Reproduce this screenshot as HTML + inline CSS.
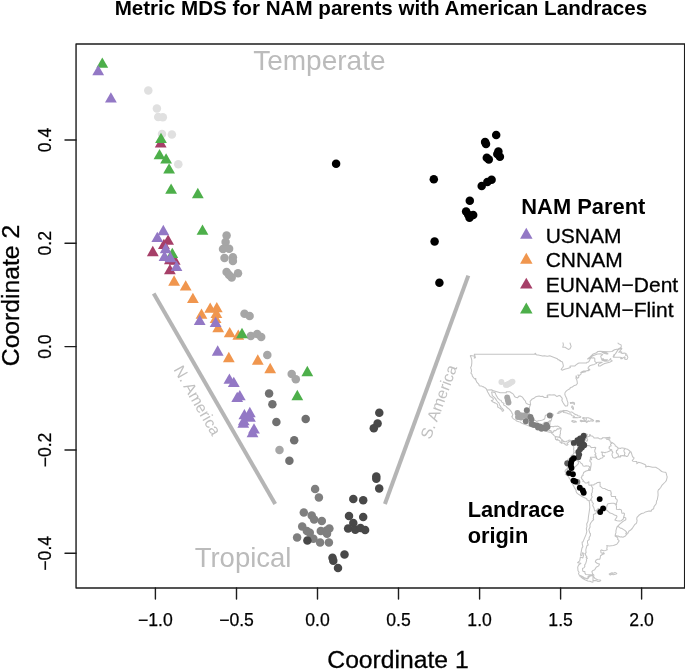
<!DOCTYPE html>
<html lang="en"><head><meta charset="utf-8"><title>Metric MDS</title>
<style>html,body{margin:0;padding:0;background:#fff;}body{width:685px;height:669px;overflow:hidden;font-family:"Liberation Sans",sans-serif;}svg{display:block;will-change:transform;transform:translateZ(0);}</style>
</head><body>
<svg width="685" height="669" viewBox="0 0 685 669" font-family="'Liberation Sans', sans-serif">
<rect width="685" height="669" fill="#fff"/>
<text x="380.9" y="15.1" text-anchor="middle" font-size="20.6" font-weight="bold" fill="#000">Metric MDS for NAM parents with American Landraces</text>
<text x="253.2" y="70.4" font-size="28" fill="#bbbbbb">Temperate</text>
<text x="194.7" y="566.9" font-size="27.5" fill="#bbbbbb">Tropical</text>
<line x1="153.7" y1="293.5" x2="275.2" y2="504.0" stroke="#b5b5b5" stroke-width="4"/>
<line x1="468.3" y1="275.6" x2="384.9" y2="504.0" stroke="#b5b5b5" stroke-width="4"/>
<text transform="translate(173.2,369.4) rotate(60)" font-size="15.9" fill="#c1c1c1">N. America</text>
<text transform="translate(430.6,440.0) rotate(-69.8)" font-size="16" fill="#c1c1c1">S. America</text>
<path d="M573.9,442.1L575.0,442.2L576.6,440.6L577.6,440.4L577.6,439.7L578.0,437.8L579.2,436.8L580.6,436.8L582.5,436.5L584.2,435.4L585.1,434.9L586.1,433.9L586.9,434.0L587.5,434.6L587.1,435.3L587.0,435.8L585.7,436.1L586.4,437.1L586.4,438.2L585.4,439.5L586.2,441.2L587.2,441.1L587.7,439.5L587.0,438.7L586.9,437.1L589.6,436.2L589.3,435.2L590.1,434.5L590.9,436.0L592.4,436.1L593.8,437.3L593.9,438.0L595.9,438.0L598.2,437.8L599.5,438.8L601.2,439.0L602.4,438.3L602.4,437.8L605.1,437.7L607.7,437.6L605.9,438.3L606.6,439.3L608.4,439.5L610.0,440.6L610.4,442.3L611.5,442.3L612.4,442.8L613.8,443.6L615.2,445.0L615.3,446.1L616.1,446.2L617.2,447.2L618.1,448.0L620.7,448.4L621.0,448.0L622.7,447.9L625.1,448.4L625.8,448.7L627.4,449.2L629.8,451.0L630.1,451.9L630.9,451.8L631.4,453.0L632.6,456.9L633.8,457.2L633.9,458.7L632.2,460.5L632.9,461.2L636.8,461.5L636.9,463.7L638.5,462.3L641.3,463.0L644.9,464.4L646.0,465.7L645.6,466.9L648.2,466.2L652.4,467.3L655.7,467.3L658.9,469.1L661.7,471.5L663.4,472.1L665.3,472.2L666.1,472.9L666.8,475.7L667.2,477.0L666.3,480.6L665.2,482.0L662.1,485.1L660.7,487.5L659.1,489.4L658.6,489.5L657.9,491.1L658.1,495.2L657.5,498.5L657.2,500.0L656.6,500.8L656.2,503.7L654.0,506.6L653.6,508.8L651.8,509.8L651.3,511.1L648.9,511.1L645.5,511.9L643.9,512.9L641.5,513.5L638.9,515.3L637.0,517.4L636.7,519.0L637.1,520.3L636.7,522.5L636.2,523.5L634.6,524.7L632.2,528.5L630.3,530.3L628.8,531.3L627.8,533.4L626.4,534.6L625.4,536.0L622.9,537.2L621.3,536.8L620.1,537.0L618.1,536.1L616.6,536.1L615.3,534.9L615.1,536.1L617.9,537.9L617.6,539.4L619.0,540.4L618.9,541.4L616.8,544.2L613.5,545.4L609.1,545.9L606.7,545.6L607.2,546.9L606.8,548.6L607.2,549.7L605.8,550.4L603.6,550.8L601.5,549.9L600.7,550.5L601.0,552.7L602.4,553.3L603.6,552.6L604.3,553.8L602.3,554.5L600.5,555.8L600.2,558.0L599.7,559.2L597.6,559.2L595.9,560.3L595.3,561.9L597.4,563.5L599.5,564.0L598.7,565.9L596.2,567.2L594.7,569.7L592.8,570.6L591.9,571.6L592.6,573.9L594.0,575.1L593.1,575.0L591.2,575.0L590.1,575.5L588.1,576.3L587.8,578.3L586.8,578.4L584.4,577.7L581.9,576.2L579.1,574.9L578.5,573.6L579.1,572.3L578.0,570.8L577.7,567.1L578.6,565.0L580.9,563.3L577.6,562.7L579.7,560.8L580.4,557.1L582.9,557.9L584.0,553.4L582.5,552.8L581.9,555.5L580.5,555.2L581.2,552.1L581.9,548.1L582.9,546.6L582.3,544.5L582.1,542.0L583.0,541.9L584.4,538.4L585.9,534.9L586.8,531.7L586.3,528.4L587.0,526.6L586.7,523.9L588.0,521.3L588.4,517.0L589.1,512.5L589.8,507.6L589.6,504.1L589.2,501.0L586.9,499.7L586.8,498.8L582.4,496.7L578.5,494.3L576.8,492.9L575.9,491.1L576.3,490.5L574.4,487.6L572.3,483.6L570.2,479.3L569.3,478.3L568.6,476.7L566.9,475.3L565.3,474.4L566.0,473.4L565.0,471.3L565.7,469.8L567.4,468.4L568.6,466.8L568.1,465.8L567.3,466.9L566.0,465.9L566.4,465.3L566.0,463.3L566.8,463.0L567.2,461.6L568.0,460.2L567.9,459.3L569.1,458.9L570.6,458.0L570.3,457.3L571.1,457.1L571.0,456.1L571.5,455.3L572.6,455.1L573.5,453.7L574.4,452.6L573.6,452.1L574.0,450.8L573.5,448.8L573.9,448.2L573.6,446.4L572.7,445.3 M593.0,575.8L593.8,576.8L594.9,578.4L597.7,579.7L600.8,580.2L599.8,581.3L597.7,581.4L596.6,580.7L595.3,580.6L593.0,580.6L593.0,575.8L591.4,575.5L589.4,576.4L588.7,577.9L587.5,578.9L584.7,578.1L582.8,578.6L579.8,576.2L581.6,576.6L584.7,578.1 M593.0,580.6L592.9,582.2L591.7,582.0L590.1,581.3L587.8,581.0L585.0,579.8L582.8,578.6 M609.2,574.0L611.9,572.7L613.7,573.3L615.0,572.4L616.8,573.4L616.1,574.1L613.2,574.8L612.2,574.0L610.3,575.0L609.2,574.0 M587.1,435.3L585.7,435.7L585.1,436.8L584.3,437.4L583.6,438.2L583.3,439.8L582.7,441.1L583.9,441.2L584.1,442.2L584.6,442.7L584.8,443.6L584.5,444.4L584.6,444.8L585.2,445.0L585.7,445.8L588.5,445.5L589.8,445.8L591.3,447.7L592.2,447.5L593.8,447.6L595.0,447.3L595.8,447.7L595.4,448.9L594.9,449.6L594.7,451.2L595.2,452.6L595.8,453.3L595.9,453.8L594.8,454.9L595.6,455.3L596.1,456.1L596.8,458.3 M596.8,458.3L598.0,459.4L599.7,459.3L600.1,458.6L601.8,458.1L602.7,457.8L602.9,456.8L604.5,456.2L604.4,455.7L602.5,455.6L602.2,454.2L602.3,452.7L601.3,452.1L601.7,452.0L603.3,452.2L605.1,452.8L605.7,452.3L607.3,451.9L609.7,451.1L610.5,450.3L610.3,449.7 M610.3,449.7L608.8,448.0L609.4,447.4L609.3,446.4L610.7,446.0L611.2,445.7L610.5,444.8L610.7,444.0L612.4,442.8 M610.3,449.7L611.4,449.6L611.9,450.1L611.6,451.0L612.4,451.4L612.9,452.4L612.3,453.1L611.9,455.0L612.5,456.1L612.6,457.1L614.0,458.1L615.1,458.2L615.3,457.8L616.0,457.7L617.0,457.3L617.7,456.7L618.9,456.9L619.4,456.9 M619.4,456.9L618.4,455.6L617.8,453.7L617.1,453.7L616.2,452.1L616.5,451.0L616.4,450.5L617.7,449.9L618.1,448.0 M619.4,456.9L620.6,457.0L620.8,456.6L620.5,456.2L620.7,455.5L621.6,455.7L622.6,455.5L623.9,456.0 M623.9,456.0L624.4,455.0L624.6,454.0L625.0,453.1L624.1,451.8L623.9,450.3L625.1,448.4 M623.9,456.0L625.5,455.8L626.0,455.9L626.3,456.5L627.3,456.4L628.1,455.6L628.8,453.9L630.1,451.9 M596.8,458.3L596.4,458.5L596.0,457.3L595.4,456.6L594.6,457.3L590.4,457.3L590.4,458.6L591.7,458.8L591.6,459.7L591.2,459.5L589.9,459.8L589.9,461.4L590.9,462.2L591.2,463.4L591.2,464.4L590.2,470.4 M590.2,470.4L589.1,469.2L588.5,469.2L589.9,467.0L588.2,465.9L586.9,466.1L586.1,465.7L584.9,466.3L583.2,466.0L582.0,463.7L581.0,463.2L580.3,462.2L578.8,461.1L578.2,461.3 M578.2,461.3L577.3,460.8L576.2,460.1L575.6,460.4L573.7,460.1L573.2,459.2L572.8,459.2L570.6,458.0 M578.2,461.3L578.5,463.0L577.8,464.4L575.4,466.7L572.8,467.5L571.5,469.4L571.1,470.9L569.8,471.8L568.9,470.7L568.0,470.5L567.1,470.7L567.1,469.9L567.7,469.3L567.4,468.4 M590.2,470.4L588.2,470.3L587.9,470.6L586.1,471.0L583.6,472.5L583.5,473.5L582.9,474.3L583.1,475.5L581.8,476.1L581.8,477.0L581.2,477.4L582.2,479.4L583.4,480.7L582.9,481.6L584.4,481.8L585.2,482.9L587.1,483.0L588.9,481.7L588.8,485.0L589.8,485.2L591.0,484.9 M591.0,484.9L592.9,488.4L592.4,489.1L592.3,490.6L592.3,492.5L591.4,493.6L591.8,494.4L591.3,495.1L592.2,497.0L590.9,499.3 M590.9,499.3L590.3,500.4L589.2,501.0 M591.0,484.9L592.6,485.1L593.8,485.0L594.2,484.3L596.2,483.5L597.3,482.6L600.2,482.3L600.0,483.9L600.2,484.8L600.0,486.2L602.4,488.2L604.9,488.5L605.7,489.3L607.2,489.8L608.1,490.4L609.5,490.4L610.8,491.0L610.9,492.3L611.3,492.9L611.3,493.9L610.7,493.9L611.5,496.4L615.7,496.5L615.4,497.8L615.6,498.6L616.8,499.3L617.3,500.6L616.9,502.3L616.3,503.3L616.6,504.5L615.9,505.0 M615.9,505.0L615.8,504.3L613.8,503.2L611.8,503.2L607.9,503.8L606.9,505.7L606.8,506.9L606.0,509.5 M606.0,509.5L605.6,509.0L603.1,508.9L602.3,510.7L601.0,509.1L598.1,508.6L596.3,510.6 M596.3,510.6L594.7,510.9L593.9,507.8L592.7,505.4L593.4,503.3L592.2,502.4L591.9,500.8L590.9,499.3 M596.3,510.6L596.6,511.1L595.8,513.4L593.4,514.5L593.5,518.1L593.1,518.8L593.7,519.6L592.2,521.0L590.7,523.0L589.9,525.0L590.1,527.1L588.8,529.4L589.8,533.1L590.4,533.5L590.4,535.5L589.1,537.7L589.2,539.5L587.5,540.9L587.5,542.9L588.2,545.0L586.9,545.8L586.3,547.8L585.8,550.0L586.1,552.7L585.3,553.1L585.8,555.6L586.8,556.5L586.1,557.4L587.1,557.8L587.3,558.6L586.3,559.0L586.6,560.3L585.8,563.2L584.6,565.1L584.9,566.2L584.2,567.6L582.5,568.5L582.7,570.8L583.4,571.6L584.9,571.5L584.9,573.1L585.8,574.4L591.1,574.7L593.1,575.0 M615.9,505.0L616.5,506.2L616.4,509.2L618.7,509.6L619.6,509.2L621.1,509.7L621.5,510.4L621.7,512.4L621.9,513.2L622.7,513.3L623.6,513.0L624.4,513.4L624.4,514.6L624.1,515.8L623.6,517.1 M623.6,517.1L623.3,519.0L621.3,520.7L619.5,521.1L617.1,520.7L614.9,520.1L617.0,516.8L616.7,515.8L614.5,515.0L611.8,513.4L610.0,513.1L606.0,509.5 M623.6,517.1L625.8,517.9L625.8,519.7L623.9,520.9L622.5,521.8L620.0,523.9L617.0,526.9 M617.0,526.9L616.5,528.6L615.9,530.8L616.0,533.0L615.5,533.5L615.3,534.9 M617.0,526.9L618.5,526.6L620.7,528.3L621.5,528.3L623.7,529.6L625.5,530.9L626.7,532.4L625.8,533.4L626.4,534.6 M572.7,445.3L572.0,444.6L571.5,443.5L572.1,442.9L571.5,442.7L571.1,442.0L570.0,441.4L569.0,441.5L568.6,442.3L567.7,442.8L567.2,442.9L567.0,443.4L568.1,444.5L567.5,444.8L567.2,445.2L566.1,445.3L565.8,444.0L565.5,444.3L564.8,444.2L564.3,443.3L563.4,443.2L562.8,442.9L561.9,442.9L561.8,443.4L561.6,443.1L560.4,442.6L560.0,442.1L560.2,441.8L560.1,441.3L559.5,440.7L558.7,440.3L557.9,440.0L557.8,439.4L557.2,439.0L557.3,439.6L556.9,440.2L556.4,439.6L555.7,439.4L555.4,438.9L555.4,438.2L555.7,437.6L555.1,437.2L555.6,436.8L554.8,436.1L553.8,435.3L553.3,434.5L552.4,433.8L551.3,432.9L551.5,432.5L551.9,432.9L552.1,432.7L551.7,432.0L551.0,431.8L550.8,432.3L549.5,432.3L548.7,432.1L547.8,431.7L546.6,431.5L546.0,431.0L544.9,430.7L543.5,430.6L542.5,430.2L541.3,429.3 M573.9,442.1L573.0,441.5L572.3,440.8L571.4,440.5L570.1,440.4L570.2,440.2L569.0,440.1L568.3,440.7L566.9,441.1L566.0,441.7L564.9,441.8L564.3,441.3L564.1,441.5L563.2,441.4L563.3,440.9L562.5,440.1L561.5,439.2L560.6,438.3L560.1,437.2L559.7,436.8L559.6,436.2L560.1,435.6L559.9,435.1L560.1,434.1L560.5,433.9L560.4,432.9L560.3,432.4L560.4,431.4L560.6,430.5L561.1,429.8L560.9,429.0L561.0,428.5L561.2,428.3L560.6,427.7L559.8,427.4L558.5,426.5L557.2,426.1L556.2,426.4L555.6,426.2L554.9,426.1L554.0,426.6L552.4,426.6L550.8,426.4L550.3,426.8L550.1,426.7L549.4,426.4L549.3,426.8L548.5,426.4L549.8,425.0L550.0,423.9L549.9,422.5L550.3,421.6L550.3,421.0L549.9,420.7 M573.9,442.1L573.6,442.4L574.1,443.7L573.7,444.3L573.0,444.2L572.7,445.3 M561.6,443.1L561.7,442.6L561.9,442.2L561.8,441.8L562.1,441.5L561.7,441.2L561.7,440.3L562.5,440.1 M555.6,436.8L555.9,436.5L557.4,437.1L557.9,436.8L558.5,437.0L558.9,437.5L559.5,437.6L560.1,437.2 M552.1,432.7L552.7,432.6L553.0,432.1L553.3,432.1L553.3,431.0L553.8,431.0L554.3,431.0L554.7,430.4L555.4,430.8L555.6,430.6L556.0,430.3L556.8,429.7L556.8,429.3L557.0,429.3L557.3,428.8L557.5,428.7L557.9,429.0L558.3,429.1L558.8,428.8L559.4,428.8L560.1,428.6L560.4,428.3L561.2,428.3 M550.1,426.7L549.1,427.5L548.1,428.1L547.9,428.6L548.1,429.0L547.6,429.6 M547.6,429.6L548.2,429.7L548.7,430.2L549.4,430.5L549.5,430.8L550.4,430.6L550.9,430.7L551.2,430.9L551.0,431.8 M546.0,431.0L546.1,430.7L546.8,430.2L547.2,430.0L547.1,429.7L547.6,429.6 M541.3,429.3L541.4,428.7L541.6,428.2L541.3,427.8L542.4,426.0L545.2,426.0L545.2,425.2L544.9,425.1L544.6,424.6L543.8,424.1L543.0,423.4L544.0,423.4L544.0,422.2L546.0,422.2L548.1,422.2 M548.1,422.2L548.1,423.9L547.9,426.4L548.5,426.4 M549.9,420.7L549.5,420.7L548.7,422.0L548.3,421.8L548.1,421.8L548.1,422.2 M541.3,429.3L538.8,426.9L537.7,426.3L535.9,425.7L534.7,425.8L532.9,426.7L531.8,426.9L530.3,426.3L528.7,425.9L526.6,424.9L525.0,424.6L522.5,423.6L520.6,422.5L520.1,421.9L518.9,421.8L516.6,421.1L515.7,420.1L513.4,418.9L512.3,417.5L511.8,416.5L512.5,416.2L512.3,415.6L512.8,415.0L512.8,414.3L512.0,413.3L511.8,412.5L511.1,411.4L509.2,409.2L507.0,407.5L505.9,406.1L504.0,405.2L503.6,404.7L504.0,403.4L502.8,402.8L501.6,401.8L501.0,400.3L499.8,400.1L498.6,398.9L497.5,397.9L497.4,397.2L496.3,395.6L495.5,393.9L495.5,393.0L493.9,392.2L493.2,392.3L491.9,391.7L491.6,392.6L492.0,393.6L492.2,395.3L492.9,396.1L494.6,397.6L494.9,398.2L495.3,398.3L495.5,399.1L495.9,399.0L496.4,400.4L497.0,401.0L497.5,401.8L498.9,402.9L499.6,404.9L500.2,405.9L500.9,406.9L501.0,408.0L502.0,408.1L502.9,409.1L503.7,410.1L503.7,410.4L502.7,411.3L502.3,411.3L501.8,409.9L500.3,408.7L498.8,407.6L497.6,407.1L497.7,405.5L497.4,404.3L496.3,403.6L494.8,402.6L494.5,402.9L494.0,402.4L492.6,401.8L491.3,400.6L491.5,400.4L492.4,400.5L493.2,399.7L493.3,398.7L491.6,397.2L490.3,396.6L489.5,395.2L488.7,393.8L487.7,392.0L486.8,390.1 M486.8,390.1L492.1,389.7L491.9,390.2L500.2,392.7L506.3,392.7L506.3,391.8L510.0,391.8L510.9,392.5L512.0,393.2L513.3,394.2L514.0,395.3L514.5,396.5L515.7,397.2L517.5,397.8L518.9,396.1L520.7,396.1L522.2,397.0L523.3,398.4L524.1,399.7L525.4,401.0L525.8,402.5L526.4,403.5L528.2,404.2L529.7,404.7L530.6,404.6 M530.6,404.6L529.7,406.5L529.3,408.1L529.2,411.0L529.0,412.1L529.3,413.3L530.0,414.3L530.5,416.0L531.9,417.6L532.4,418.9L533.3,420.0L535.6,420.5L536.5,421.5L538.4,420.8L540.1,420.6L541.7,420.2L543.1,419.8L544.5,419.0L545.0,417.7L545.2,415.9L545.6,415.2L547.1,414.7L549.4,414.2L551.3,414.2L552.6,414.0L553.2,414.5L553.1,415.5L551.9,416.8L551.4,418.2L551.8,418.6L551.5,419.5L550.9,421.2L550.4,420.6L549.9,420.7 M530.6,404.6L530.1,401.3L531.8,399.3L533.9,398.3L535.9,396.7L537.8,396.2L539.1,396.1L540.7,396.6L542.6,396.3L544.3,397.5L545.9,397.5L546.7,397.1L547.5,397.4L547.4,396.7L547.9,397.1L547.5,395.8L547.1,395.3L549.6,394.8L551.6,395.0L554.1,394.7L555.4,395.3L556.5,396.3L556.9,396.4L559.1,395.4L560.0,395.7L561.7,397.6L562.3,398.8L561.8,400.2L563.1,402.7L564.3,404.6L565.5,406.1L567.2,406.0L567.8,404.7L567.9,402.4L566.9,399.9L566.9,398.9L565.2,395.5L564.8,394.0L565.1,392.5L566.2,391.2L567.4,390.1L569.8,388.7L570.1,388.0L571.3,387.2L572.3,387.0L573.8,385.8L576.0,385.1L577.4,383.5L577.1,381.3L576.8,379.8L576.0,378.4L576.1,375.7L576.8,377.5L577.4,378.3L578.6,377.5L578.9,376.5L577.9,374.9L579.1,375.5L580.8,374.4L581.3,372.9L580.6,372.8L581.3,372.2L585.1,371.4L585.7,371.8L582.1,372.4L581.3,372.2L581.8,371.8L583.7,371.1L585.9,370.9L587.5,370.6L588.6,370.6L589.8,369.9L589.6,369.1L588.9,369.9L588.2,368.7L588.2,367.5L588.5,367.1L589.7,365.8L592.0,365.1L594.3,364.4L596.6,363.3L596.2,362.6 M474.3,354.2L475.0,356.0L475.4,357.8L474.2,358.1L474.8,356.6L473.7,356.1L470.5,355.5L470.3,356.0L470.9,357.0L471.5,358.8L471.8,360.3L471.8,362.9L471.5,365.7L470.6,367.8L471.3,369.4L471.5,371.3L470.9,373.1L472.0,374.3L472.4,376.1L474.0,378.2L475.0,378.6L475.7,378.4L475.9,379.2L475.0,379.1L476.1,380.4L476.4,381.2L476.8,382.2L478.9,384.4L479.2,385.6L479.7,385.9L481.7,386.1L482.5,386.7L483.8,386.8L484.0,387.4L485.0,387.7L486.4,389.0L486.8,390.1 M596.2,362.6L594.8,361.4L594.8,358.4L593.8,357.8L592.4,358.1L591.6,357.6L590.0,359.2L589.3,360.9L588.5,361.9L587.6,362.2L586.9,362.3L586.7,362.9L582.6,362.9L579.3,362.9L578.3,363.3L576.0,364.9L575.0,365.9L570.9,365.9L569.9,366.2L570.2,366.7L570.4,367.3L570.4,367.6L567.5,368.6L565.3,369.0L562.7,370.1L562.2,370.1L561.4,369.8L561.2,369.5L561.3,369.3L561.7,368.5L562.8,367.3L563.4,366.0L563.0,364.1L562.5,362.1L560.2,361.1L560.5,360.7L560.2,360.5L559.6,360.5L559.1,360.1L559.0,359.6L558.6,359.8L558.0,359.8L558.1,359.5L557.6,359.3L557.4,358.8L549.7,355.7L547.8,356.3L547.1,356.3L544.4,355.8L542.6,356.1L540.5,355.4L538.2,355.0L536.7,354.9L536.0,354.5L535.6,353.3L534.9,353.4L534.9,354.2L530.4,354.2L474.3,354.2 M618.0,343.1L618.6,343.7L621.1,344.9L621.3,347.3L619.7,348.1L618.1,348.9L614.5,349.7L611.9,351.5L608.1,351.8L603.4,351.4L600.1,351.3L597.9,351.5L596.0,353.1L593.2,354.0L590.1,356.9L587.6,358.9L589.4,358.6L592.9,355.7L597.5,353.9L600.8,353.7L602.7,354.7L600.7,356.2L601.4,358.6L602.1,360.2L604.9,361.3L608.5,361.0L610.7,358.5L610.9,360.1L612.3,360.9L609.6,362.3L604.7,363.6L602.6,364.5L600.1,366.1L598.5,365.9L598.4,364.1L602.2,362.3L598.7,362.3L596.2,362.6 M620.3,350.5L618.9,352.4L620.3,351.7L621.8,352.1L621.0,352.9L622.9,353.5L624.0,353.0L626.1,353.6L625.5,355.2L627.0,354.9L627.3,356.0L627.9,357.4L627.0,359.3L626.0,359.4L624.6,359.0L625.1,357.2L624.5,356.9L621.9,358.8L620.6,358.7L622.2,357.7L620.1,357.2L617.7,357.3L613.5,357.2L613.1,356.6L614.5,355.8L613.5,355.2L615.4,353.9L617.6,350.4L619.0,349.2L620.9,348.4L621.9,348.5L621.5,349.1L620.3,350.5 M602.0,352.3L602.7,352.1L605.6,352.6L607.8,353.5L607.9,353.9L606.8,354.0L604.0,353.3L602.0,352.3 M603.1,358.5L603.8,359.5L605.4,359.8L607.5,359.8L606.4,360.7L605.6,360.8L602.8,359.9L602.3,359.1L603.1,358.5 M563.0,342.8L563.4,344.8L562.7,347.3L565.0,347.3L568.3,349.4L570.0,348.7L571.1,346.4L570.0,343.0 M563.1,410.4L565.0,410.6L566.7,410.6L568.8,411.4L569.7,412.2L571.7,411.9L572.5,412.4L574.3,413.8L575.7,414.8L576.4,414.7L577.7,415.2L577.6,415.8L579.2,415.9L580.8,416.8L580.6,417.3L579.1,417.6L577.6,417.7L576.1,417.5L573.0,417.7L574.4,416.5L573.6,415.9L572.2,415.8L571.4,415.2L570.9,413.9L569.6,414.0L567.6,413.4L566.9,413.0L564.1,412.6L563.3,412.2L564.1,411.6L562.0,411.5L560.4,412.7L559.5,412.7L559.2,413.2L558.1,413.5L557.2,413.3L558.3,412.6L558.8,411.8L559.8,411.3L560.9,410.9L562.6,410.7L563.1,410.4 M583.0,417.6L584.3,417.7L586.2,418.0L586.5,417.7L588.2,417.7L589.5,418.2L590.1,418.2L590.5,418.9L591.7,418.9L591.6,419.5L592.6,419.6L593.6,420.4L592.8,421.3L591.8,420.8L590.8,420.9L590.1,420.8L589.7,421.2L588.8,421.4L588.5,420.8L587.8,421.1L586.9,422.6L586.3,422.3L586.2,421.7L584.8,421.3L583.8,421.4L582.4,421.3L581.4,421.7L580.2,421.0L580.4,420.3L582.4,420.6L584.1,420.8L584.9,420.3L583.9,419.4L583.9,418.5L582.5,418.2L583.0,417.6 M586.2,418.0L586.4,419.2L586.2,420.0L585.7,420.4L586.3,421.1L586.2,421.7 M573.4,420.7L574.9,420.9L576.0,421.4L576.4,422.0L574.9,422.0L574.2,422.4L573.0,422.1L571.7,421.3L572.0,420.8L572.9,420.6L573.4,420.7 M598.1,420.6L599.2,420.8L599.6,421.3L599.1,421.8L597.4,421.8L596.1,421.9L596.0,421.0L596.3,420.6L598.1,420.6 M608.2,437.5L609.4,437.3L609.9,437.3L609.8,439.0L608.0,439.2L607.6,439.0L608.2,438.4L608.2,437.5 M573.5,409.2L572.9,409.3L572.4,408.0L571.6,407.4L572.0,406.0L572.7,406.1L573.5,407.9L573.5,409.2 M572.9,403.1L570.5,403.4L570.3,402.6L571.3,402.4L572.8,402.5L572.9,403.1 M574.6,403.0L574.3,404.6L573.9,404.3L573.9,403.2L572.9,402.3L572.9,402.1L574.6,403.0" fill="none" stroke="#c3c3c3" stroke-width="1.05" stroke-linejoin="round" stroke-linecap="round"/>
<circle cx="501.4" cy="382.0" r="2.95" fill="#dedede"/>
<circle cx="505.9" cy="384.9" r="2.95" fill="#dedede"/>
<circle cx="507.0" cy="384.7" r="2.95" fill="#dedede"/>
<circle cx="508.0" cy="384.3" r="2.95" fill="#dedede"/>
<circle cx="509.2" cy="383.7" r="2.95" fill="#dedede"/>
<circle cx="510.2" cy="383.1" r="2.95" fill="#dedede"/>
<circle cx="511.4" cy="382.3" r="2.95" fill="#dedede"/>
<circle cx="512.5" cy="381.6" r="2.95" fill="#dedede"/>
<circle cx="507.2" cy="397.5" r="2.95" fill="#a6a6a6"/>
<circle cx="507.8" cy="400.0" r="2.95" fill="#a6a6a6"/>
<circle cx="508.5" cy="402.5" r="2.95" fill="#a6a6a6"/>
<circle cx="517.5" cy="413.0" r="2.95" fill="#a6a6a6"/>
<circle cx="519.5" cy="415.0" r="2.95" fill="#a6a6a6"/>
<circle cx="522.0" cy="415.5" r="2.95" fill="#a6a6a6"/>
<circle cx="524.5" cy="415.5" r="2.95" fill="#a6a6a6"/>
<circle cx="527.0" cy="416.0" r="2.95" fill="#a6a6a6"/>
<circle cx="518.0" cy="417.0" r="2.95" fill="#a6a6a6"/>
<circle cx="521.0" cy="417.5" r="2.95" fill="#a6a6a6"/>
<circle cx="526.8" cy="410.2" r="2.95" fill="#7f7f7f"/>
<circle cx="530.5" cy="417.0" r="2.95" fill="#7f7f7f"/>
<circle cx="531.5" cy="419.5" r="2.95" fill="#7f7f7f"/>
<circle cx="525.8" cy="421.3" r="2.95" fill="#7f7f7f"/>
<circle cx="549.8" cy="415.5" r="2.95" fill="#7f7f7f"/>
<circle cx="531.5" cy="424.0" r="2.95" fill="#7f7f7f"/>
<circle cx="534.0" cy="425.0" r="2.95" fill="#7f7f7f"/>
<circle cx="537.0" cy="425.5" r="2.95" fill="#7f7f7f"/>
<circle cx="540.0" cy="426.5" r="2.95" fill="#7f7f7f"/>
<circle cx="543.0" cy="427.5" r="2.95" fill="#7f7f7f"/>
<circle cx="545.5" cy="428.5" r="2.95" fill="#7f7f7f"/>
<circle cx="547.5" cy="427.0" r="2.95" fill="#7f7f7f"/>
<circle cx="546.5" cy="425.0" r="2.95" fill="#7f7f7f"/>
<circle cx="541.5" cy="428.8" r="2.95" fill="#7f7f7f"/>
<circle cx="538.0" cy="427.5" r="2.95" fill="#7f7f7f"/>
<circle cx="583.7" cy="435.8" r="2.95" fill="#484848"/>
<circle cx="580.1" cy="438.5" r="2.95" fill="#484848"/>
<circle cx="577.4" cy="440.2" r="2.95" fill="#484848"/>
<circle cx="573.8" cy="442.9" r="2.95" fill="#484848"/>
<circle cx="581.9" cy="441.1" r="2.95" fill="#484848"/>
<circle cx="579.2" cy="443.8" r="2.95" fill="#484848"/>
<circle cx="583.7" cy="444.7" r="2.95" fill="#484848"/>
<circle cx="581.9" cy="447.4" r="2.95" fill="#484848"/>
<circle cx="580.1" cy="449.2" r="2.95" fill="#484848"/>
<circle cx="578.3" cy="451.9" r="2.95" fill="#484848"/>
<circle cx="579.2" cy="454.6" r="2.95" fill="#484848"/>
<circle cx="578.3" cy="457.3" r="2.95" fill="#484848"/>
<circle cx="582.5" cy="438.0" r="2.95" fill="#484848"/>
<circle cx="578.2" cy="440.7" r="2.95" fill="#484848"/>
<circle cx="580.4" cy="443.0" r="2.95" fill="#484848"/>
<circle cx="581.9" cy="446.0" r="2.95" fill="#484848"/>
<circle cx="584.2" cy="445.2" r="2.95" fill="#484848"/>
<circle cx="580.8" cy="440.0" r="2.95" fill="#484848"/>
<circle cx="567.2" cy="463.2" r="2.95" fill="#5a5a5a"/>
<circle cx="577.4" cy="482.0" r="2.95" fill="#7f7f7f"/>
<circle cx="573.8" cy="458.2" r="2.95" fill="#000000"/>
<circle cx="572.0" cy="460.0" r="2.95" fill="#000000"/>
<circle cx="571.1" cy="462.7" r="2.95" fill="#000000"/>
<circle cx="570.8" cy="465.4" r="2.95" fill="#000000"/>
<circle cx="571.5" cy="468.0" r="2.95" fill="#000000"/>
<circle cx="569.0" cy="473.1" r="2.95" fill="#000000"/>
<circle cx="572.9" cy="474.3" r="2.95" fill="#000000"/>
<circle cx="573.5" cy="480.6" r="2.95" fill="#000000"/>
<circle cx="575.3" cy="481.5" r="2.95" fill="#000000"/>
<circle cx="579.8" cy="487.8" r="2.95" fill="#000000"/>
<circle cx="582.8" cy="490.5" r="2.95" fill="#000000"/>
<circle cx="583.7" cy="492.8" r="2.95" fill="#000000"/>
<circle cx="599.7" cy="499.1" r="2.95" fill="#000000"/>
<circle cx="603.1" cy="508.4" r="2.95" fill="#000000"/>
<circle cx="600.2" cy="512.0" r="2.95" fill="#000000"/>
<circle cx="148.3" cy="90.6" r="4.25" fill="#e0e0e0"/>
<circle cx="156.9" cy="108.6" r="4.25" fill="#e0e0e0"/>
<circle cx="158.2" cy="117.0" r="4.25" fill="#e0e0e0"/>
<circle cx="162.8" cy="117.3" r="4.25" fill="#e0e0e0"/>
<circle cx="162.0" cy="134.0" r="4.25" fill="#e0e0e0"/>
<circle cx="171.9" cy="134.5" r="4.25" fill="#e0e0e0"/>
<circle cx="178.3" cy="164.3" r="4.25" fill="#e0e0e0"/>
<circle cx="226.6" cy="235.6" r="4.25" fill="#a6a6a6"/>
<circle cx="225.6" cy="241.9" r="4.25" fill="#a6a6a6"/>
<circle cx="223.0" cy="249.0" r="4.25" fill="#a6a6a6"/>
<circle cx="229.1" cy="248.8" r="4.25" fill="#a6a6a6"/>
<circle cx="224.5" cy="257.9" r="4.25" fill="#a6a6a6"/>
<circle cx="232.9" cy="257.2" r="4.25" fill="#a6a6a6"/>
<circle cx="232.9" cy="261.0" r="4.25" fill="#a6a6a6"/>
<circle cx="226.6" cy="271.9" r="4.25" fill="#a6a6a6"/>
<circle cx="238.0" cy="273.2" r="4.25" fill="#a6a6a6"/>
<circle cx="231.7" cy="277.5" r="4.25" fill="#a6a6a6"/>
<circle cx="229.1" cy="275.0" r="4.25" fill="#a6a6a6"/>
<circle cx="244.5" cy="313.7" r="4.25" fill="#a6a6a6"/>
<circle cx="249.6" cy="315.9" r="4.25" fill="#a6a6a6"/>
<circle cx="250.8" cy="336.1" r="4.25" fill="#a6a6a6"/>
<circle cx="257.2" cy="334.0" r="4.25" fill="#a6a6a6"/>
<circle cx="261.2" cy="336.9" r="4.25" fill="#a6a6a6"/>
<circle cx="267.3" cy="354.9" r="4.25" fill="#a6a6a6"/>
<circle cx="291.7" cy="373.9" r="4.25" fill="#a6a6a6"/>
<circle cx="295.8" cy="379.3" r="4.25" fill="#a6a6a6"/>
<circle cx="279.5" cy="449.9" r="4.25" fill="#a6a6a6"/>
<circle cx="269.1" cy="393.4" r="4.25" fill="#707070"/>
<circle cx="272.4" cy="404.2" r="4.25" fill="#707070"/>
<circle cx="276.4" cy="422.0" r="4.25" fill="#707070"/>
<circle cx="305.7" cy="418.9" r="4.25" fill="#707070"/>
<circle cx="294.2" cy="440.2" r="4.25" fill="#707070"/>
<circle cx="289.4" cy="460.8" r="4.25" fill="#707070"/>
<circle cx="315.1" cy="489.0" r="4.25" fill="#7f7f7f"/>
<circle cx="318.9" cy="497.4" r="4.25" fill="#7f7f7f"/>
<circle cx="303.8" cy="512.5" r="4.25" fill="#7f7f7f"/>
<circle cx="311.7" cy="515.4" r="4.25" fill="#7f7f7f"/>
<circle cx="314.1" cy="519.4" r="4.25" fill="#7f7f7f"/>
<circle cx="321.8" cy="520.9" r="4.25" fill="#7f7f7f"/>
<circle cx="302.2" cy="526.6" r="4.25" fill="#7f7f7f"/>
<circle cx="306.9" cy="530.9" r="4.25" fill="#7f7f7f"/>
<circle cx="309.8" cy="532.8" r="4.25" fill="#7f7f7f"/>
<circle cx="320.8" cy="530.9" r="4.25" fill="#7f7f7f"/>
<circle cx="326.6" cy="530.4" r="4.25" fill="#7f7f7f"/>
<circle cx="329.4" cy="528.5" r="4.25" fill="#7f7f7f"/>
<circle cx="327.0" cy="533.8" r="4.25" fill="#7f7f7f"/>
<circle cx="297.1" cy="537.4" r="4.25" fill="#7f7f7f"/>
<circle cx="313.4" cy="538.8" r="4.25" fill="#7f7f7f"/>
<circle cx="320.1" cy="542.4" r="4.25" fill="#7f7f7f"/>
<circle cx="328.9" cy="542.4" r="4.25" fill="#7f7f7f"/>
<circle cx="307.4" cy="540.5" r="4.25" fill="#484848"/>
<circle cx="353.3" cy="499.1" r="4.25" fill="#484848"/>
<circle cx="363.2" cy="500.3" r="4.25" fill="#484848"/>
<circle cx="349.0" cy="516.1" r="4.25" fill="#484848"/>
<circle cx="363.2" cy="517.0" r="4.25" fill="#484848"/>
<circle cx="353.3" cy="523.0" r="4.25" fill="#484848"/>
<circle cx="348.1" cy="528.5" r="4.25" fill="#484848"/>
<circle cx="355.3" cy="529.7" r="4.25" fill="#484848"/>
<circle cx="360.5" cy="528.0" r="4.25" fill="#484848"/>
<circle cx="365.1" cy="530.0" r="4.25" fill="#484848"/>
<circle cx="376.3" cy="476.4" r="4.25" fill="#484848"/>
<circle cx="376.3" cy="478.8" r="4.25" fill="#484848"/>
<circle cx="379.2" cy="488.6" r="4.25" fill="#484848"/>
<circle cx="344.5" cy="554.4" r="4.25" fill="#484848"/>
<circle cx="332.5" cy="557.7" r="4.25" fill="#484848"/>
<circle cx="333.3" cy="560.8" r="4.25" fill="#484848"/>
<circle cx="338.0" cy="568.0" r="4.25" fill="#484848"/>
<circle cx="379.3" cy="412.7" r="4.25" fill="#484848"/>
<circle cx="377.6" cy="423.6" r="4.25" fill="#484848"/>
<circle cx="373.8" cy="428.3" r="4.25" fill="#484848"/>
<circle cx="336.1" cy="163.8" r="4.25" fill="#000000"/>
<circle cx="496.2" cy="135.0" r="4.25" fill="#000000"/>
<circle cx="485.1" cy="142.1" r="4.25" fill="#000000"/>
<circle cx="486.0" cy="144.0" r="4.25" fill="#000000"/>
<circle cx="498.4" cy="151.4" r="4.25" fill="#000000"/>
<circle cx="497.3" cy="154.0" r="4.25" fill="#000000"/>
<circle cx="499.9" cy="156.8" r="4.25" fill="#000000"/>
<circle cx="486.8" cy="157.7" r="4.25" fill="#000000"/>
<circle cx="488.8" cy="159.4" r="4.25" fill="#000000"/>
<circle cx="491.6" cy="179.8" r="4.25" fill="#000000"/>
<circle cx="487.4" cy="182.1" r="4.25" fill="#000000"/>
<circle cx="481.7" cy="186.0" r="4.25" fill="#000000"/>
<circle cx="469.8" cy="200.8" r="4.25" fill="#000000"/>
<circle cx="466.1" cy="211.6" r="4.25" fill="#000000"/>
<circle cx="473.2" cy="215.0" r="4.25" fill="#000000"/>
<circle cx="469.5" cy="217.8" r="4.25" fill="#000000"/>
<circle cx="468.1" cy="214.4" r="4.25" fill="#000000"/>
<circle cx="433.8" cy="179.2" r="4.25" fill="#000000"/>
<circle cx="434.6" cy="241.6" r="4.25" fill="#000000"/>
<circle cx="439.4" cy="282.7" r="4.25" fill="#000000"/>
<polygon points="174.1,275.35 168.20,285.65 180.00,285.65" fill="#f0964e"/>
<polygon points="185.7,280.15 179.80,290.45 191.60,290.45" fill="#f0964e"/>
<polygon points="192.9,292.75 187.00,303.05 198.80,303.05" fill="#f0964e"/>
<polygon points="210.2,302.55 204.30,312.85 216.10,312.85" fill="#f0964e"/>
<polygon points="216.8,301.95 210.90,312.25 222.70,312.25" fill="#f0964e"/>
<polygon points="201.5,308.55 195.60,318.85 207.40,318.85" fill="#f0964e"/>
<polygon points="216.4,307.65 210.50,317.95 222.30,317.95" fill="#f0964e"/>
<polygon points="215.6,312.65 209.70,322.95 221.50,322.95" fill="#f0964e"/>
<polygon points="218.2,322.05 212.30,332.35 224.10,332.35" fill="#f0964e"/>
<polygon points="229.7,326.95 223.80,337.25 235.60,337.25" fill="#f0964e"/>
<polygon points="238.3,329.45 232.40,339.75 244.20,339.75" fill="#f0964e"/>
<polygon points="228.8,351.85 222.90,362.15 234.70,362.15" fill="#f0964e"/>
<polygon points="257.8,354.35 251.90,364.65 263.70,364.65" fill="#f0964e"/>
<polygon points="270.2,362.85 264.30,373.15 276.10,373.15" fill="#f0964e"/>
<polygon points="160.7,137.25 154.80,147.55 166.60,147.55" fill="#a63f68"/>
<polygon points="168.1,234.45 162.20,244.75 174.00,244.75" fill="#a63f68"/>
<polygon points="163.9,238.65 158.00,248.95 169.80,248.95" fill="#a63f68"/>
<polygon points="152.8,245.85 146.90,256.15 158.70,256.15" fill="#a63f68"/>
<polygon points="174.7,254.35 168.80,264.65 180.60,264.65" fill="#a63f68"/>
<polygon points="169.9,254.05 164.00,264.35 175.80,264.35" fill="#a63f68"/>
<polygon points="169.9,264.05 164.00,274.35 175.80,274.35" fill="#a63f68"/>
<polygon points="102.3,57.45 96.40,67.75 108.20,67.75" fill="#4daf4a"/>
<polygon points="161.0,132.65 155.10,142.95 166.90,142.95" fill="#4daf4a"/>
<polygon points="159.5,148.95 153.60,159.25 165.40,159.25" fill="#4daf4a"/>
<polygon points="166.1,153.25 160.20,163.55 172.00,163.55" fill="#4daf4a"/>
<polygon points="169.1,163.15 163.20,173.45 175.00,173.45" fill="#4daf4a"/>
<polygon points="171.1,183.55 165.20,193.85 177.00,193.85" fill="#4daf4a"/>
<polygon points="197.8,187.85 191.90,198.15 203.70,198.15" fill="#4daf4a"/>
<polygon points="202.5,224.45 196.60,234.75 208.40,234.75" fill="#4daf4a"/>
<polygon points="172.3,247.65 166.40,257.95 178.20,257.95" fill="#4daf4a"/>
<polygon points="242.0,327.85 236.10,338.15 247.90,338.15" fill="#4daf4a"/>
<polygon points="307.3,365.85 301.40,376.15 313.20,376.15" fill="#4daf4a"/>
<polygon points="297.3,389.85 291.40,400.15 303.20,400.15" fill="#4daf4a"/>
<polygon points="98.2,65.05 92.30,75.35 104.10,75.35" fill="#9378c5"/>
<polygon points="110.9,92.25 105.00,102.55 116.80,102.55" fill="#9378c5"/>
<polygon points="163.3,224.85 157.40,235.15 169.20,235.15" fill="#9378c5"/>
<polygon points="157.3,231.75 151.40,242.05 163.20,242.05" fill="#9378c5"/>
<polygon points="165.7,242.85 159.80,253.15 171.60,253.15" fill="#9378c5"/>
<polygon points="164.5,250.65 158.60,260.95 170.40,260.95" fill="#9378c5"/>
<polygon points="170.5,251.95 164.60,262.25 176.40,262.25" fill="#9378c5"/>
<polygon points="176.5,260.75 170.60,271.05 182.40,271.05" fill="#9378c5"/>
<polygon points="199.7,314.75 193.80,325.05 205.60,325.05" fill="#9378c5"/>
<polygon points="215.6,316.75 209.70,327.05 221.50,327.05" fill="#9378c5"/>
<polygon points="217.7,345.35 211.80,355.65 223.60,355.65" fill="#9378c5"/>
<polygon points="229.4,373.55 223.50,383.85 235.30,383.85" fill="#9378c5"/>
<polygon points="233.8,376.75 227.90,387.05 239.70,387.05" fill="#9378c5"/>
<polygon points="239.8,390.05 233.90,400.35 245.70,400.35" fill="#9378c5"/>
<polygon points="237.2,391.75 231.30,402.05 243.10,402.05" fill="#9378c5"/>
<polygon points="244.4,408.95 238.50,419.25 250.30,419.25" fill="#9378c5"/>
<polygon points="249.8,406.85 243.90,417.15 255.70,417.15" fill="#9378c5"/>
<polygon points="250.0,411.45 244.10,421.75 255.90,421.75" fill="#9378c5"/>
<polygon points="243.3,417.45 237.40,427.75 249.20,427.75" fill="#9378c5"/>
<polygon points="243.8,415.05 237.90,425.35 249.70,425.35" fill="#9378c5"/>
<polygon points="254.0,423.25 248.10,433.55 259.90,433.55" fill="#9378c5"/>
<polygon points="252.5,426.95 246.60,437.25 258.40,437.25" fill="#9378c5"/>
<text x="521.3" y="214.4" font-size="21.9" font-weight="bold" fill="#000">NAM Parent</text>
<polygon points="526.3,227.84 520.05,238.76 532.55,238.76" fill="#9378c5"/>
<text x="545.7" y="242.5" font-size="21" fill="#000" stroke="#000" stroke-width="0.3">USNAM</text>
<polygon points="526.3,252.74 520.05,263.66 532.55,263.66" fill="#f0964e"/>
<text x="545.7" y="267.4" font-size="21" fill="#000" stroke="#000" stroke-width="0.3">CNNAM</text>
<polygon points="526.3,277.64 520.05,288.56 532.55,288.56" fill="#a63f68"/>
<text x="545.7" y="292.3" font-size="21" fill="#000" stroke="#000" stroke-width="0.3">EUNAM−Dent</text>
<polygon points="526.3,302.54 520.05,313.46 532.55,313.46" fill="#4daf4a"/>
<text x="545.7" y="317.2" font-size="21" fill="#000" stroke="#000" stroke-width="0.3">EUNAM−Flint</text>
<text x="467.7" y="517.2" font-size="21.8" font-weight="bold" fill="#000">Landrace</text>
<text x="467.7" y="542.9" font-size="21.8" font-weight="bold" fill="#000">origin</text>
<rect x="76.05" y="44.0" width="608.6" height="544.0" fill="none" stroke="#1c1c1c" stroke-width="1.4" stroke-linejoin="round"/>
<text x="155.4" y="626.0" text-anchor="middle" font-size="17.6" fill="#000" stroke="#000" stroke-width="0.25">−1.0</text>
<text x="236.5" y="626.0" text-anchor="middle" font-size="17.6" fill="#000" stroke="#000" stroke-width="0.25">−0.5</text>
<text x="317.5" y="626.0" text-anchor="middle" font-size="17.6" fill="#000" stroke="#000" stroke-width="0.25">0.0</text>
<text x="398.5" y="626.0" text-anchor="middle" font-size="17.6" fill="#000" stroke="#000" stroke-width="0.25">0.5</text>
<text x="479.6" y="626.0" text-anchor="middle" font-size="17.6" fill="#000" stroke="#000" stroke-width="0.25">1.0</text>
<text x="560.6" y="626.0" text-anchor="middle" font-size="17.6" fill="#000" stroke="#000" stroke-width="0.25">1.5</text>
<text x="641.6" y="626.0" text-anchor="middle" font-size="17.6" fill="#000" stroke="#000" stroke-width="0.25">2.0</text>
<text transform="translate(50.8,553.3) rotate(-90)" text-anchor="middle" font-size="17.6" fill="#000" stroke="#000" stroke-width="0.25">−0.4</text>
<text transform="translate(50.8,450.0) rotate(-90)" text-anchor="middle" font-size="17.6" fill="#000" stroke="#000" stroke-width="0.25">−0.2</text>
<text transform="translate(50.8,346.6) rotate(-90)" text-anchor="middle" font-size="17.6" fill="#000" stroke="#000" stroke-width="0.25">0.0</text>
<text transform="translate(50.8,243.3) rotate(-90)" text-anchor="middle" font-size="17.6" fill="#000" stroke="#000" stroke-width="0.25">0.2</text>
<text transform="translate(50.8,140.0) rotate(-90)" text-anchor="middle" font-size="17.6" fill="#000" stroke="#000" stroke-width="0.25">0.4</text>
<path d="M155.4,588.05V599.0M236.5,588.05V599.0M317.5,588.05V599.0M398.5,588.05V599.0M479.6,588.05V599.0M560.6,588.05V599.0M641.6,588.05V599.0M76.05,553.3H65.0M76.05,450.0H65.0M76.05,346.6H65.0M76.05,243.3H65.0M76.05,140.0H65.0" fill="none" stroke="#1c1c1c" stroke-width="1.4" stroke-linecap="round"/>
<text x="398" y="668.3" text-anchor="middle" font-size="24.7" fill="#000" stroke="#000" stroke-width="0.3">Coordinate 1</text>
<text transform="translate(19.4,295.5) rotate(-90)" text-anchor="middle" font-size="24.7" fill="#000" stroke="#000" stroke-width="0.3">Coordinate 2</text>
</svg>
</body></html>
